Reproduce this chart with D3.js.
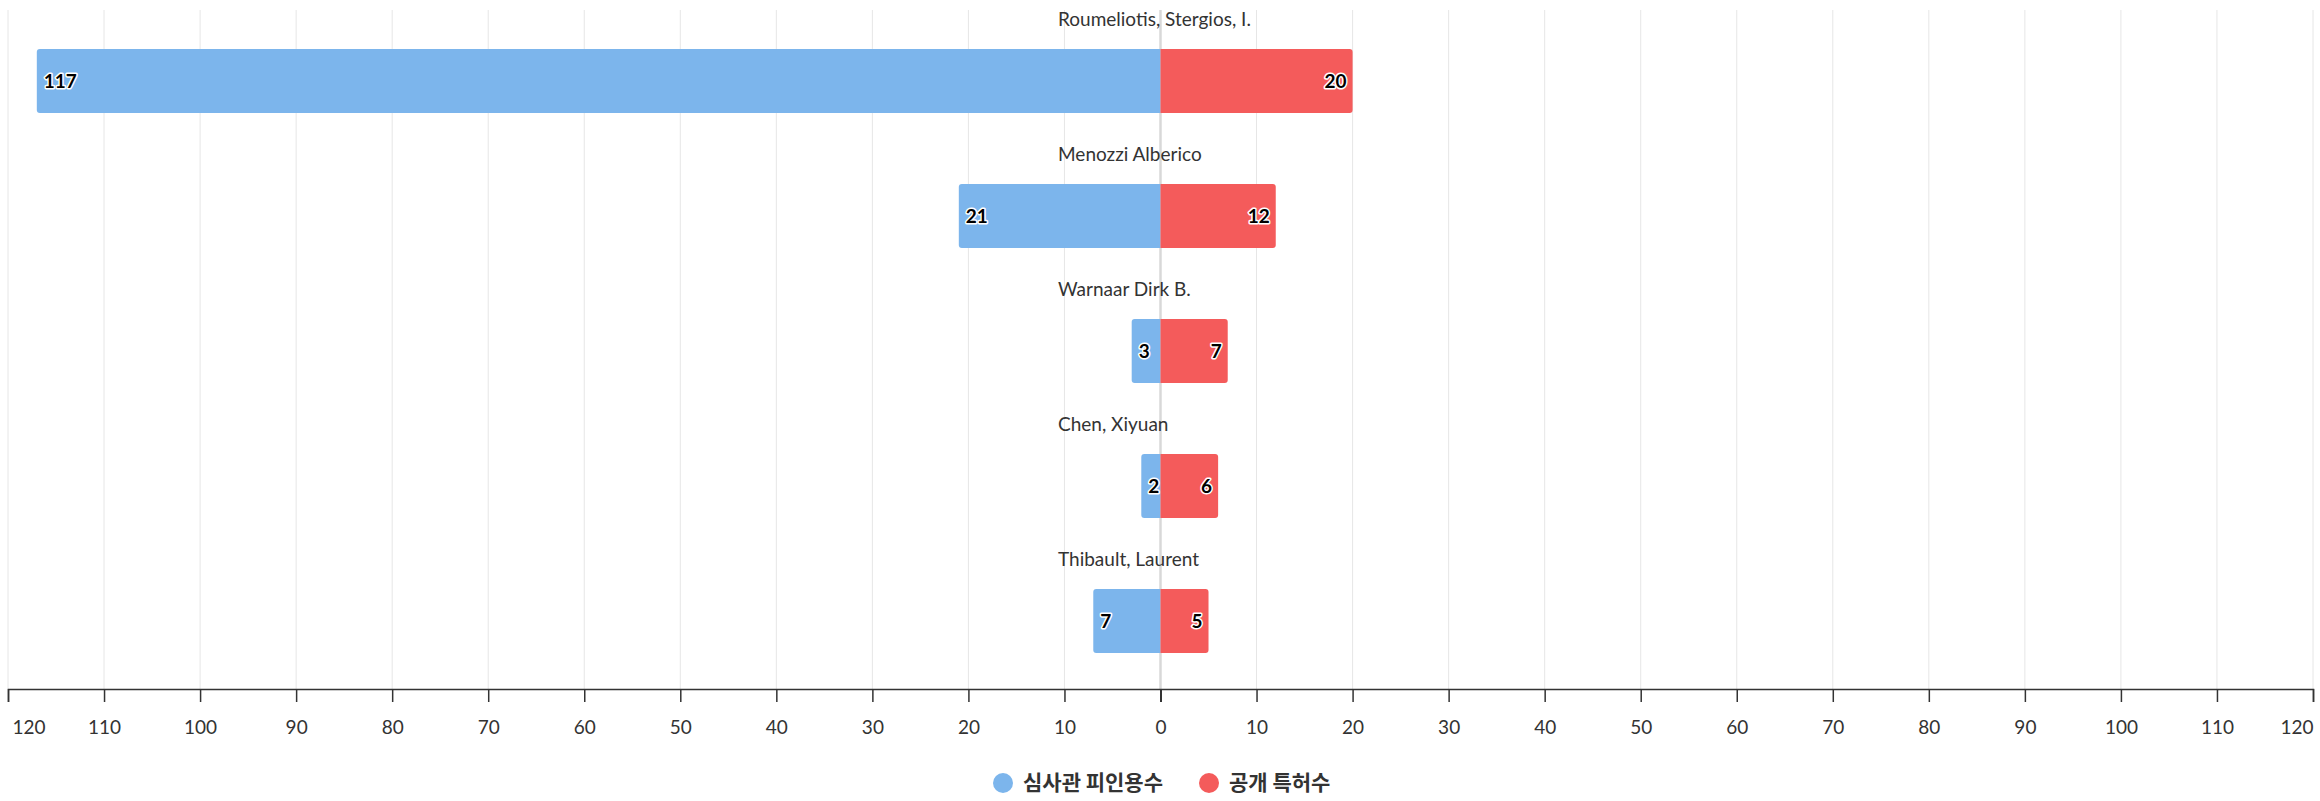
<!DOCTYPE html>
<html>
<head>
<meta charset="utf-8">
<script src="https://cdn.jsdelivr.net/npm/d3@7"></script>
<style>
  html, body { margin: 0; padding: 0; background: #fff; }
  svg { display: block; }
</style>
</head>
<body>
<svg id="chart" width="2320" height="801"></svg>
<script>
const categories = ["Roumeliotis, Stergios, I.", "Menozzi Alberico", "Warnaar Dirk B.", "Chen, Xiyuan", "Thibault, Laurent"];
const citedCounts = [117, 21, 3, 2, 7];   // 심사관 피인용수 (left, blue)
const patentCounts = [20, 12, 7, 6, 5];   // 공개 특허수 (right, red)
const seriesNames = ["심사관 피인용수", "공개 특허수"];
const seriesColors = ["#7cb5ec", "#f45b5b"];
const tickValues = [-120, -110, -100, -90, -80, -70, -60, -50, -40, -30, -20, -10, 0, 10, 20, 30, 40, 50, 60, 70, 80, 90, 100, 110, 120];

const svg = d3.select("#chart");
const plotTop = 13.5, plotBottom = 688.5, axisY = 689;
const x = d3.scaleLinear().domain([-120, 120]).range([8, 2313]);
const y = d3.scaleBand().domain(categories).range([plotTop, plotBottom]).paddingInner(0.526).paddingOuter(0.263);

const latin = "Lato, 'Noto Sans', sans-serif";
const korean = "'Noto Sans CJK KR', 'Noto Sans', sans-serif";

// grid
svg.append("g").selectAll("line").data(tickValues).join("line")
  .attr("x1", d => x(d)).attr("x2", d => x(d))
  .attr("y1", 10).attr("y2", axisY)
  .attr("stroke", d => d === 0 ? "#d8d8d8" : "#e6e6e6")
  .attr("stroke-width", d => d === 0 ? 2.5 : 1);

// bars
function barPath(x0, x1, yTop, h, r) {
  const dir = x1 >= x0 ? 1 : -1;
  const w = Math.abs(x1 - x0);
  r = Math.min(r, w / 2, h / 2);
  const p = d3.path();
  p.moveTo(x0, yTop);
  p.lineTo(x1 - dir * r, yTop);
  p.quadraticCurveTo(x1, yTop, x1, yTop + r);
  p.lineTo(x1, yTop + h - r);
  p.quadraticCurveTo(x1, yTop + h, x1 - dir * r, yTop + h);
  p.lineTo(x0, yTop + h);
  p.closePath();
  return p.toString();
}

const rows = categories.map((c, i) => ({ c, left: citedCounts[i], right: patentCounts[i] }));
const bars = svg.append("g");
bars.selectAll("path.left").data(rows).join("path").attr("class", "left")
  .attr("d", d => barPath(x(0), x(-d.left), y(d.c), y.bandwidth(), 3))
  .attr("fill", seriesColors[0]);
bars.selectAll("path.right").data(rows).join("path").attr("class", "right")
  .attr("d", d => barPath(x(0), x(d.right), y(d.c), y.bandwidth(), 3))
  .attr("fill", seriesColors[1]);

// value labels
const lbl = svg.append("g")
  .attr("font-family", latin).attr("font-size", 19).attr("font-weight", "bold")
  .attr("fill", "#000").attr("stroke", "#fff").attr("stroke-width", 3)
  .attr("paint-order", "stroke").attr("stroke-linejoin", "round");
lbl.selectAll("text.l").data(rows).join("text").attr("class", "l")
  .attr("x", d => x(-d.left) + 7).attr("y", d => y(d.c) + y.bandwidth() / 2)
  .attr("dy", "0.35em").attr("text-anchor", "start").text(d => d.left);
lbl.selectAll("text.r").data(rows).join("text").attr("class", "r")
  .attr("x", d => x(d.right) - 6).attr("y", d => y(d.c) + y.bandwidth() / 2)
  .attr("dy", "0.35em").attr("text-anchor", "end").text(d => d.right);

// category labels
svg.append("g").selectAll("text").data(categories).join("text")
  .attr("x", 1058).attr("y", d => y(d) + y.bandwidth() / 2 - 62)
  .attr("dy", "0.35em")
  .attr("font-family", latin).attr("font-size", 19).attr("fill", "#333")
  .text(d => d);

// axis
const axis = d3.axisBottom(x).tickValues(tickValues).tickSize(13).tickPadding(19)
  .tickFormat(d => Math.abs(d));
const gAxis = svg.append("g").attr("transform", `translate(0,${axisY})`).call(axis);
gAxis.select(".domain").attr("stroke", "#333").attr("stroke-width", 1.5);
gAxis.selectAll(".tick line").attr("stroke", "#333").attr("stroke-width", d => d === 0 ? 2 : 1.5);
gAxis.selectAll(".tick text").attr("font-family", latin).attr("font-size", 19).attr("fill", "#333");
gAxis.selectAll(".tick text").filter(d => d === -120).attr("text-anchor", "start").attr("x", 4);
gAxis.selectAll(".tick text").filter(d => d === 120).attr("text-anchor", "end").attr("x", 0);

// legend
const legend = svg.append("g");
const items = legend.selectAll("g").data(seriesNames).join("g");
items.append("circle").attr("r", 10).attr("fill", (d, i) => seriesColors[i]);
items.append("text").attr("x", 20).attr("dy", "0.35em")
  .attr("font-family", korean).attr("font-size", 21).attr("font-weight", "bold").attr("fill", "#333")
  .text(d => d);
let widths = [];
items.each(function () { widths.push(this.querySelector("text").getComputedTextLength() + 20); });
const gap = 46;
let cx = 1003;
items.each(function (d, i) {
  d3.select(this).attr("transform", `translate(${cx},783)`);
  cx += widths[i] + gap;
});
</script>
</body>
</html>
